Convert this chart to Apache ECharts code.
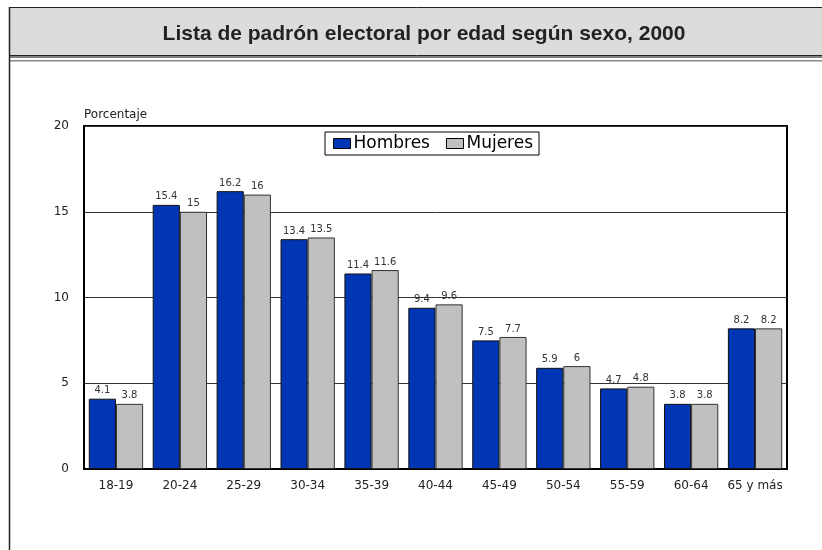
<!DOCTYPE html>
<html><head><meta charset="utf-8">
<script src="https://cdn.jsdelivr.net/npm/echarts@6/dist/echarts.min.js"></script>
<style>html,body{margin:0;padding:0;background:#fff}#c{width:822px;height:550px}</style>
</head><body><div id="c"></div>
<script>
var categories = ['18-19','20-24','25-29','30-34','35-39','40-44','45-49','50-54','55-59','60-64','65 y más'];
var hombres = [4.1,15.4,16.2,13.4,11.4,9.4,7.5,5.9,4.7,3.8,8.2];
var mujeres = [3.8,15,16,13.5,11.6,9.6,7.7,6,4.8,3.8,8.2];
var titleText = 'Lista de padrón electoral por edad según sexo, 2000';
var yName = 'Porcentaje';

var chart = echarts.init(document.getElementById('c'), null, {renderer:'canvas'});
var tfont = 'Liberation Sans, Arial, sans-serif';
var font = 'DejaVu Sans, sans-serif';
var lbl = {show:true, position:'top', distance:3, fontSize:10, color:'#333', fontFamily:font};
chart.setOption({
  animation:false,
  graphic:[
    {type:'rect', shape:{x:9.5,y:7.5,width:830,height:48}, style:{fill:'#dcdcdc', stroke:'#222', lineWidth:1}},
    {type:'rect', shape:{x:9,y:56,width:830,height:2}, style:{fill:'#7f7f7f'}},
    {type:'rect', shape:{x:9,y:60,width:830,height:1.5}, style:{fill:'#8a8a8a'}},
    {type:'line', shape:{x1:9.5,y1:7,x2:9.5,y2:550}, style:{stroke:'#222', lineWidth:1.5}},
    {type:'text', x:424, y:34, style:{text:titleText, font:'bold 21px '+tfont, fill:'#222', textAlign:'center', textVerticalAlign:'middle'}}
  ],
  legend:{
    top:132, left:325, itemGap:16, itemWidth:17, itemHeight:10,
    padding:[3,6,3,8],
    borderColor:'#000', borderWidth:1, backgroundColor:'#fff',
    textStyle:{fontSize:17, fontFamily:font, color:'#000', padding:[0,0,0,-2]},
    icon:'rect',
    data:[{name:'Hombres', itemStyle:{borderColor:'#000', borderWidth:1}},{name:'Mujeres', itemStyle:{borderColor:'#000', borderWidth:1}}]
  },
  grid:{left:84, right:35, top:126, bottom:81, show:true, borderColor:'#000', borderWidth:2},
  xAxis:{
    type:'category', data:categories,
    axisLine:{lineStyle:{color:'#000', width:2}},
    axisTick:{show:false},
    axisLabel:{interval:0, fontSize:12, color:'#222', fontFamily:font, margin:11}
  },
  yAxis:{
    type:'value', min:0, max:20, interval:5,
    name:yName, nameLocation:'end', nameGap:5,
    nameTextStyle:{fontSize:12, color:'#222', fontFamily:font, align:'left'},
    axisLine:{show:true, lineStyle:{color:'#000', width:2}},
    axisTick:{show:false},
    axisLabel:{fontSize:12, color:'#222', fontFamily:font, margin:15},
    splitLine:{lineStyle:{color:'#333', width:1}}
  },
  series:[
    {name:'Hombres', type:'bar', data:hombres, barGap:'0%', barCategoryGap:'15%',
     itemStyle:{color:'#0036b4', borderColor:'#111', borderWidth:1}, label:lbl},
    {name:'Mujeres', type:'bar', data:mujeres,
     itemStyle:{color:'#c0c0c0', borderColor:'#333', borderWidth:1}, label:lbl}
  ]
});
</script></body></html>
